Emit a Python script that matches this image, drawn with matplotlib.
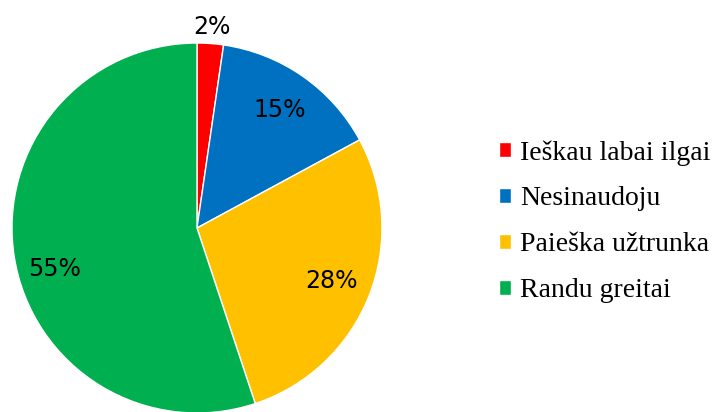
import matplotlib
matplotlib.use("Agg")
import matplotlib.pyplot as plt
import numpy as np

# Data
labels = ["Ieškau labai ilgai", "Nesinaudoju", "Paieška užtrunka", "Randu greitai"]
values = [2.3, 14.8, 27.8, 55.1]
colors = ["#FF0000", "#0070C0", "#FFC000", "#00B050"]

fig = plt.figure(figsize=(7.18, 4.12), dpi=100)
ax = fig.add_axes([0.0167, -0.0024, 0.5153, 0.898])

wedges, texts, autotexts = ax.pie(
    values, colors=colors, startangle=90, counterclock=False,
    autopct="%.0f%%", pctdistance=0.78,
    wedgeprops=dict(edgecolor="white", linewidth=1),
    textprops=dict(fontsize=17, color="black", family="DejaVu Sans"),
)

# small slice label sits outside the pie
x, y = autotexts[0].get_position()
autotexts[0].set_position((x / 0.78 * 1.09, y / 0.78 * 1.09))

# big slice label is placed a bit lower than the slice middle
w = wedges[3]
ang = np.deg2rad((w.theta1 + w.theta2) / 2 + 7)
autotexts[3].set_position((0.80 * np.cos(ang), 0.80 * np.sin(ang)))

ax.set_xlim(-1, 1)
ax.set_ylim(-1, 1)
ax.set_aspect("equal")

fig.legend(wedges, labels, loc="center left", bbox_to_anchor=(0.66, 0.462),
           frameon=False, handlelength=0.45, handleheight=0.45, handletextpad=0.3,
           labelspacing=0.75, prop=dict(family="Liberation Serif", size=20))

fig.savefig("out.png", dpi=100)
